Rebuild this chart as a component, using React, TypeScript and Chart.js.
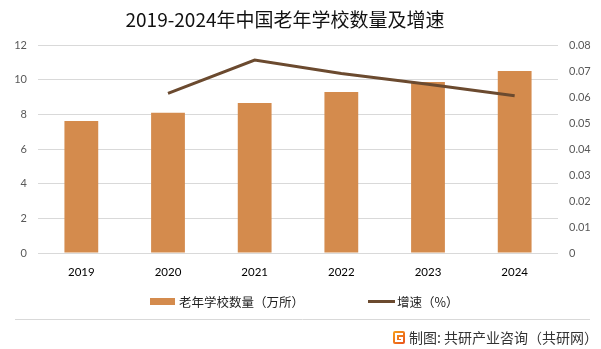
import React, { useEffect, useRef } from 'react';
import { Chart, registerables } from 'chart.js';

Chart.register(...registerables);

const years = ['2019', '2020', '2021', '2022', '2023', '2024'];
const schoolCounts = [7.62, 8.09, 8.65, 9.29, 9.87, 10.5];
const growthRates = [null, 0.0614, 0.0742, 0.069, 0.0649, 0.0605];

const titleText = '2019-2024年中国老年学校数量及增速';
const barLabel = '老年学校数量（万所）';
const lineLabel = '增速（%）';
const footerText = '制图: 共研产业咨询（共研网）';

const BAR_COLOR = '#D48B4D';
const LINE_COLOR = '#6B4A2F';
const CJK = '"Noto Sans CJK SC", "Noto Sans", sans-serif';
const NUM = 'Lato, "Noto Sans", sans-serif';

const decorPlugin = {
  id: 'decor',
  afterDraw(chart: any) {
    const ctx = chart.ctx;
    ctx.save();
    // title
    ctx.fillStyle = '#111111';
    ctx.font = `19px ${CJK}`;
    ctx.textAlign = 'center';
    ctx.textBaseline = 'middle';
    ctx.fillText(titleText, 285, 20);

    // legend
    ctx.textAlign = 'left';
    ctx.font = `12.5px ${CJK}`;
    ctx.fillStyle = BAR_COLOR;
    ctx.fillRect(150, 298, 25, 7);
    ctx.fillStyle = '#222222';
    ctx.fillText(barLabel, 179, 302);
    ctx.strokeStyle = LINE_COLOR;
    ctx.lineWidth = 3;
    ctx.beginPath();
    ctx.moveTo(368, 301.5);
    ctx.lineTo(395, 301.5);
    ctx.stroke();
    ctx.fillText(lineLabel, 397, 302);

    // divider
    ctx.strokeStyle = '#d9d9d9';
    ctx.lineWidth = 1;
    ctx.beginPath();
    ctx.moveTo(15, 319.5);
    ctx.lineTo(590, 319.5);
    ctx.stroke();

    // logo
    const grd = ctx.createLinearGradient(393, 331, 405, 344);
    grd.addColorStop(0, '#F7A11A');
    grd.addColorStop(1, '#E8511E');
    ctx.fillStyle = grd;
    ctx.beginPath();
    ctx.roundRect(393, 331, 12, 13, 2);
    ctx.fill();
    ctx.strokeStyle = '#ffffff';
    ctx.lineWidth = 2;
    ctx.beginPath();
    ctx.moveTo(403, 334);
    ctx.lineTo(396, 334);
    ctx.lineTo(396, 341);
    ctx.lineTo(402, 341);
    ctx.lineTo(402, 338);
    ctx.lineTo(399, 338);
    ctx.stroke();

    // footer
    ctx.fillStyle = '#333333';
    ctx.font = `14px ${CJK}`;
    ctx.fillText(footerText, 409, 338);
    ctx.restore();
  },
};

export default function App() {
  const canvasRef = useRef<HTMLCanvasElement | null>(null);

  useEffect(() => {
    document.body.style.margin = '0';
    const canvas = canvasRef.current;
    if (!canvas) return;
    const chart = new Chart(canvas, {
      type: 'bar',
      data: {
        labels: years,
        datasets: [
          {
            type: 'line',
            label: lineLabel,
            data: growthRates as any,
            yAxisID: 'y2',
            borderColor: LINE_COLOR,
            backgroundColor: LINE_COLOR,
            borderWidth: 3,
            pointRadius: 0,
            tension: 0,
            order: 0,
          },
          {
            type: 'bar',
            label: barLabel,
            data: schoolCounts,
            yAxisID: 'y',
            backgroundColor: BAR_COLOR,
            barPercentage: 0.39,
            categoryPercentage: 1,
            order: 1,
          },
        ],
      },
      options: {
        animation: false,
        responsive: true,
        maintainAspectRatio: false,
        layout: { padding: { top: 45, left: 0, right: 0, bottom: 0 } },
        plugins: {
          legend: { display: false },
          title: { display: false },
          tooltip: { enabled: false },
        },
        scales: {
          x: {
            grid: { display: false, drawTicks: false },
            border: { display: false },
            ticks: { color: '#000000', font: { family: NUM, size: 11.5 }, padding: 12 },
            afterFit(scale: any) {
              scale.height = 96;
            },
          },
          y: {
            position: 'left',
            min: 0,
            max: 12,
            ticks: { stepSize: 2, color: '#595959', font: { family: NUM, size: 11 }, padding: 11 },
            grid: { color: '#d9d9d9', lineWidth: 1, drawTicks: false },
            border: { display: false },
            afterFit(scale: any) {
              scale.width = 38;
            },
          },
          y2: {
            position: 'right',
            min: 0,
            max: 0.08,
            ticks: { stepSize: 0.01, color: '#595959', font: { family: NUM, size: 11 }, padding: 11 },
            grid: { display: false, drawTicks: false },
            border: { display: false },
            afterFit(scale: any) {
              scale.width = 43;
            },
          },
        },
      },
      plugins: [decorPlugin],
    });
    return () => chart.destroy();
  }, []);

  return (
    <div style={{ width: 601, height: 349, position: 'relative', background: '#ffffff' }}>
      <canvas ref={canvasRef} />
    </div>
  );
}
